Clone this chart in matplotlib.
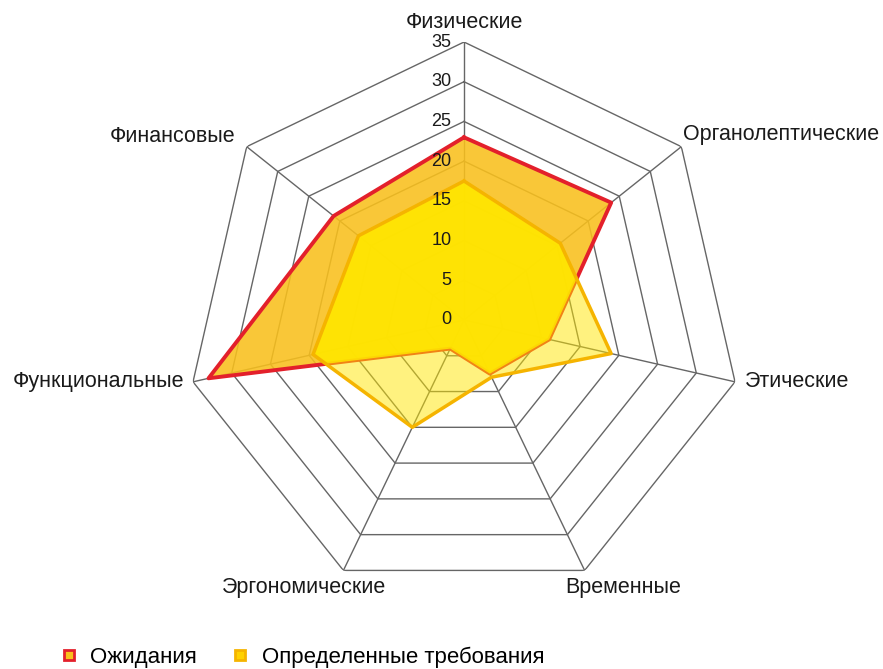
import numpy as np
import matplotlib
matplotlib.use("Agg")
import matplotlib.pyplot as plt
from matplotlib.lines import Line2D

plt.rcParams['font.family'] = ['Liberation Sans', 'DejaVu Sans']

# data
categories = ['Физические', 'Органолептические', 'Этические', 'Временные',
              'Эргономические', 'Функциональные', 'Финансовые']
expect = [23, 23.7, 11, 7.5, 4, 33, 21]          # Ожидания
required = [17.5, 15.5, 19, 8, 15, 19.5, 17]      # Определенные требования
rings = [5, 10, 15, 20, 25, 30, 35]
tick_vals = [0, 5, 10, 15, 20, 25, 30, 35]
series_names = ['Ожидания', 'Определенные требования']

n = len(categories)
theta = np.arange(n) * 2 * np.pi / n
theta_c = np.append(theta, theta[0])

def closed(v):
    return np.append(v, v[0])

fig = plt.figure(figsize=(8.83, 6.69), dpi=100)
ax = fig.add_axes([0.2107, 0.1062, 0.6296, 0.831], projection='polar')
ax.set_theta_zero_location('N')
ax.set_theta_direction(-1)
ax.set_ylim(0, 35)
ax.grid(False)
ax.set_xticks([])
ax.set_yticks([])
ax.spines['polar'].set_visible(False)
ax.patch.set_visible(False)

grid_col = '#666666'
# heptagon rings and spokes
for r in rings:
    ax.plot(theta_c, [r] * (n + 1), color=grid_col, lw=1, zorder=1)
for t in theta:
    ax.plot([t, t], [0, 35], color=grid_col, lw=1, zorder=1)

# Ожидания: orange fill, red edge
red_patch = ax.fill(theta_c, closed(expect), color='#F9C01C', alpha=0.88,
                    lw=0, zorder=2)[0]
ax.plot(theta_c, closed(expect), color='#E3202B', lw=2.8, zorder=3)

# Определенные требования: light yellow, bright where overlapping
ax.fill(theta_c, closed(required), color='#FFE600', alpha=0.5, lw=0, zorder=4)
bright = ax.fill(theta_c, closed(required), color='#FFE600', alpha=0.85,
                 lw=0, zorder=4)[0]
bright.set_clip_path(red_patch)
ax.plot(theta_c, closed(required), color='#F5B400', lw=2.5, zorder=5)

# radial tick labels along the top spoke
for v in tick_vals:
    ax.annotate(str(v), xy=(0, v), xytext=(-9, 0), textcoords='offset points',
                ha='right', va='center', fontsize=13, color='#1a1a1a', zorder=10)

# category labels
label_pos = [((0, 14), 'center'), ((1.5, 8.5), 'left'), ((7, 0), 'left'),
             ((28, -12.5), 'center'), ((-28, -12.5), 'center'),
             ((-6, 0), 'right'), ((-8, 7), 'right')]
for t, name, (off, ha) in zip(theta, categories, label_pos):
    ax.annotate(name, xy=(t, 35), xytext=off, textcoords='offset points',
                ha=ha, va='center', fontsize=15.5, color='#1a1a1a', zorder=10)

handles = [
    Line2D([], [], ls='none', marker='s', markersize=7, markerfacecolor='#F9C01C',
           markeredgecolor='#E3202B', markeredgewidth=2),
    Line2D([], [], ls='none', marker='s', markersize=7, markerfacecolor='#FFD200',
           markeredgecolor='#F5B400', markeredgewidth=2),
]
fig.legend(handles, series_names, loc='center left', bbox_to_anchor=(0.047, 0.018),
           ncol=2, frameon=False, fontsize=16, handlelength=0.7, handletextpad=0.6,
           columnspacing=1.6)

fig.savefig('out.png', dpi=100)
